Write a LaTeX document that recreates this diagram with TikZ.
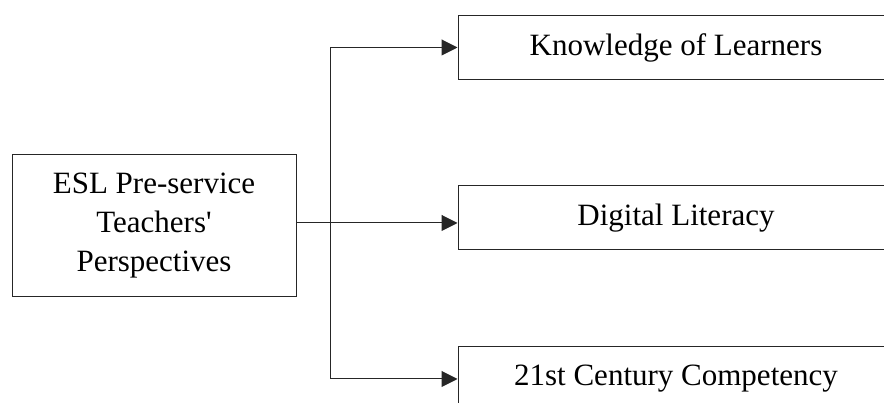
\documentclass[tikz,border=0pt]{standalone}
\usepackage{fontspec}
\setmainfont{Liberation Serif}[Ligatures=TeXOff]
\usetikzlibrary{arrows.meta}
\begin{document}
\begin{tikzpicture}[x=1pt,y=1pt,
  box/.style={draw=black!85, line width=1pt, minimum height=64pt, inner sep=0pt,
    font=\fontsize{31}{39}\selectfont, align=center},
  arr/.style={draw=black!85, line width=1pt, -{Triangle[length=16pt,width=16pt]}}]
\useasboundingbox (0,0) rectangle (884,403);
\clip (0,0) rectangle (884,403);
\node[box, minimum width=284pt, minimum height=142pt] (L) at (154,177) {ESL Pre-service\\Teachers'\\Perspectives};
\node[box, minimum width=436pt] (K) at (676,355.5) {Knowledge of Learners};
\node[box, minimum width=436pt] (M) at (676,185) {Digital Literacy};
\node[box, minimum width=436pt] (C) at (676,24) {21st Century Competency};
\coordinate (J) at (330,180);
\draw[arr] (L.east |- J) -- (M.west |- J);
\draw[arr] (J) |- (K.west);
\draw[arr] (J) |- (C.west);
\end{tikzpicture}
\end{document}
